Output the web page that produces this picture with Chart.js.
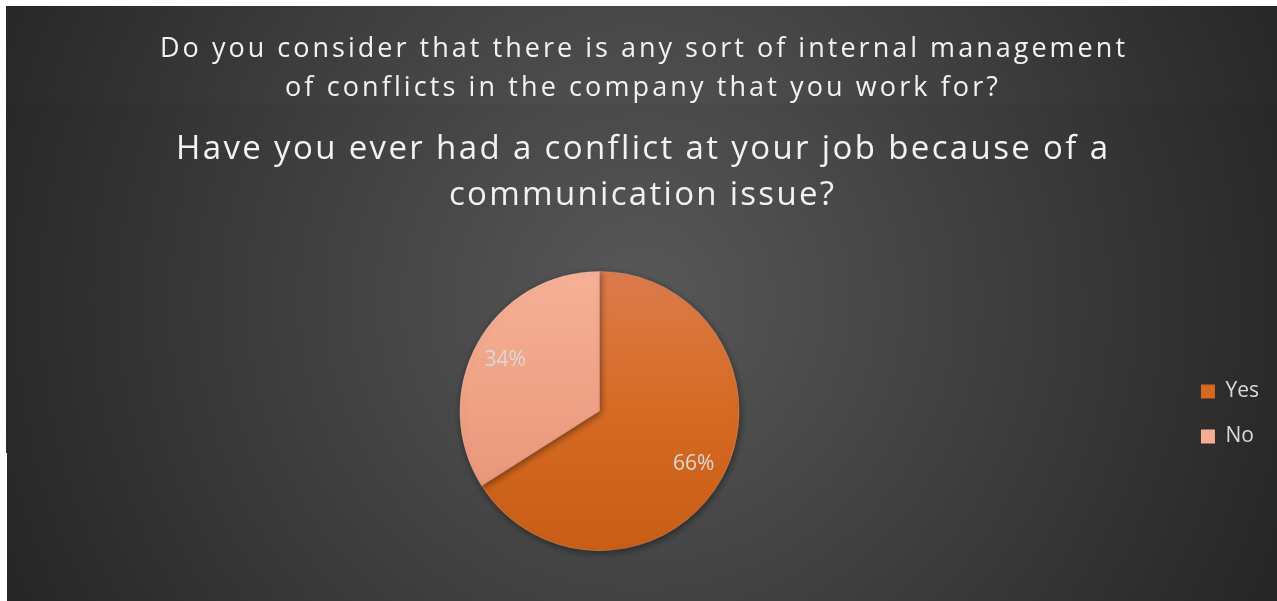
<!DOCTYPE html>
<html>
<head>
<meta charset="utf-8">
<script src="https://cdn.jsdelivr.net/npm/chart.js@4.4.1/dist/chart.umd.min.js"></script>
<style>
  html, body { margin: 0; padding: 0; background: #fff; }
  canvas { display: block; }
</style>
</head>
<body>
<canvas id="pie" width="1277" height="601"></canvas>
<script>
const answers = ['Yes', 'No'];
const shares = [66, 34];
const legendColors = ['#D5691F', '#F4AE91'];

const upperTitle = [
  'Do you consider that there is any sort of internal management',
  'of conflicts in the company that you work for?'
];
const chartTitle = [
  'Have you ever had a conflict at your job because of a',
  'communication issue?'
];

// where each title line sits: [left, right, baseline]
const upperLines = [[160, 1125, 57], [285, 998, 96]];
const titleLines = [[176, 1108, 159], [449, 834, 205]];

const canvas = document.getElementById('pie');

function spacedLine(ctx, text, left, right, baseline) {
  ctx.letterSpacing = '0px';
  const natural = ctx.measureText(text).width;
  const gap = (right - left - natural) / (text.length - 1);
  ctx.letterSpacing = gap + 'px';
  ctx.textAlign = 'left';
  ctx.fillText(text, left, baseline);
  ctx.letterSpacing = '0px';
}

const backdrop = {
  id: 'backdrop',
  beforeDraw(chart) {
    const ctx = chart.ctx;
    const w = chart.width, h = chart.height;
    ctx.save();
    ctx.fillStyle = '#ffffff';
    ctx.fillRect(0, 0, w, h);

    // main chart area
    let g = ctx.createRadialGradient(640, 300, 0, 640, 300, 690);
    g.addColorStop(0, '#585858');
    g.addColorStop(1, '#262626');
    ctx.fillStyle = g;
    ctx.fillRect(7, 6, w - 7, h - 6);
    ctx.fillRect(6, 6, 1, 447);

    // strip behind the upper question
    g = ctx.createRadialGradient(640, 260, 0, 640, 260, 700);
    g.addColorStop(0, '#5a5a5a');
    g.addColorStop(1, '#262626');
    ctx.fillStyle = g;
    ctx.fillRect(6, 6, w - 6, 97);

    ctx.fillStyle = '#f2f2f2';
    ctx.textBaseline = 'alphabetic';
    ctx.font = '27px "Open Sans"';
    upperTitle.forEach((t, i) => spacedLine(ctx, t, ...upperLines[i]));
    ctx.font = '33px "Open Sans"';
    chartTitle.forEach((t, i) => spacedLine(ctx, t, ...titleLines[i]));
    ctx.restore();
  }
};

const sliceShadow = {
  id: 'sliceShadow',
  beforeDatasetsDraw(chart) {
    const ctx = chart.ctx;
    ctx.save();
    ctx.shadowColor = 'rgba(0,0,0,0.45)';
    ctx.shadowBlur = 7;
    ctx.shadowOffsetX = 1;
    ctx.shadowOffsetY = 2;
  },
  afterDatasetsDraw(chart) {
    chart.ctx.restore();
  }
};

const percentLabels = {
  id: 'percentLabels',
  afterDatasetsDraw(chart) {
    const ctx = chart.ctx;
    const meta = chart.getDatasetMeta(0);
    ctx.save();
    ctx.font = '21px "Open Sans"';
    ctx.fillStyle = '#d9d9d9';
    ctx.textAlign = 'center';
    ctx.textBaseline = 'middle';
    meta.data.forEach((arc, i) => {
      const { x, y, startAngle, endAngle, outerRadius } = arc.getProps(['x', 'y', 'startAngle', 'endAngle', 'outerRadius'], true);
      const mid = (startAngle + endAngle) / 2;
      const r = outerRadius * 0.77;
      ctx.fillText(shares[i] + '%', x + Math.cos(mid) * r, y + Math.sin(mid) * r + 1);
    });
    ctx.restore();
  }
};

function sliceFill(ctx) {
  const area = ctx.chart.chartArea;
  if (!area) return legendColors[ctx.dataIndex];
  const g = ctx.chart.ctx.createLinearGradient(0, area.top, 0, area.bottom);
  if (ctx.dataIndex === 0) {
    g.addColorStop(0, '#dc7c4d');
    g.addColorStop(0.5, '#d66a22');
    g.addColorStop(1, '#c85d17');
  } else {
    g.addColorStop(0, '#f6b196');
    g.addColorStop(1, '#e68f72');
  }
  return g;
}

new Chart(canvas, {
  type: 'pie',
  data: {
    labels: answers,
    datasets: [{
      data: shares,
      backgroundColor: sliceFill,
      borderColor: 'rgba(255,205,180,0.35)',
      borderWidth: 0.75
    }]
  },
  options: {
    responsive: false,
    animation: false,
    events: [],
    layout: { padding: { top: 271, bottom: 50, left: 22, right: 8 } },
    plugins: {
      title: { display: false },
      tooltip: { enabled: false },
      legend: {
        position: 'right',
        // empty title only nudges the entries down a little
        title: { display: true, text: '', padding: 0, font: { size: 5 } },
        labels: {
          color: '#d9d9d9',
          font: { family: 'Open Sans', size: 21 },
          boxWidth: 14,
          boxHeight: 14,
          padding: 24,
          generateLabels(chart) {
            return Chart.overrides.pie.plugins.legend.labels.generateLabels(chart).map((item, i) => {
              item.fillStyle = legendColors[i];
              item.lineWidth = 0;
              return item;
            });
          }
        }
      }
    }
  },
  plugins: [backdrop, sliceShadow, percentLabels]
});
</script>
</body>
</html>
